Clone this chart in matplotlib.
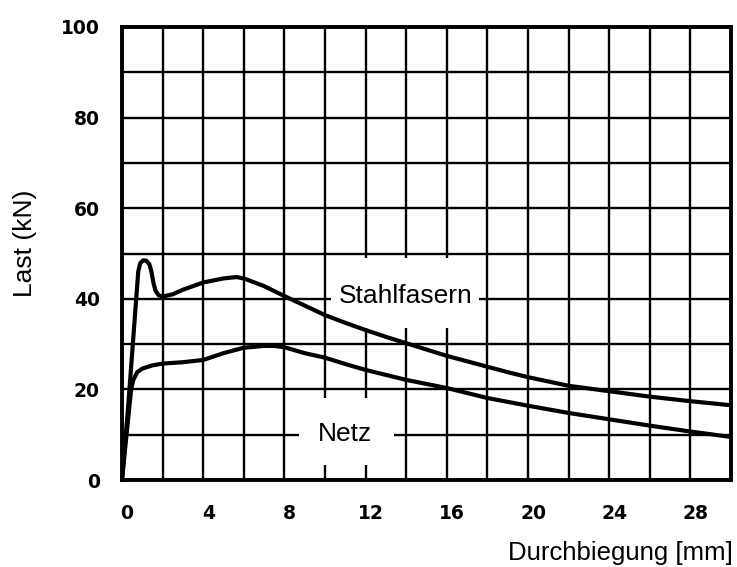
import matplotlib.pyplot as plt
from matplotlib.patches import Rectangle
from matplotlib.transforms import ScaledTranslation
# load-deflection curves

stahl_x=[0,0.3,0.5,0.7,0.8,0.9,1.05,1.2,1.35,1.45,1.55,1.65,1.8,2.0,2.5,3,4,5,5.65,6,7,8,9,10,11,12,13,14,15,16,17,18,19,20,22,24,26,28,30]
stahl_y=[0,16,28,40,46,47.9,48.5,48.4,47.6,46,43.5,41.8,40.8,40.5,41,42,43.6,44.5,44.8,44.5,42.8,40.6,38.5,36.4,34.7,33.1,31.6,30.2,28.8,27.4,26.2,25.0,23.8,22.7,20.8,19.6,18.4,17.4,16.5]

netz_x=[0,0.2,0.45,0.55,0.75,1.0,1.5,2,3,4,5,6,7,7.5,8,9,10,11,12,13,14,15,16,17,18,20,22,24,26,28,30]
netz_y=[0,9,20,22,23.8,24.6,25.3,25.7,26,26.5,28,29.2,29.6,29.6,29.3,28,27,25.6,24.3,23.2,22.1,21.2,20.3,19.2,18.1,16.4,14.8,13.4,12.0,10.7,9.5]

x_ticks=[0,4,8,12,16,20,24,28]
y_ticks=[0,20,40,60,80,100]

fig=plt.figure(figsize=(7.37,5.67),dpi=100)
ax=fig.add_axes([122/737,1-480/567,609/737,453/567])
ax.set_xlim(0,30)
ax.set_ylim(0,100)

# grid every 2 mm / 10 kN, labels only every 4 mm / 20 kN
ax.set_xticks(x_ticks)
ax.set_yticks(y_ticks)
ax.set_xticks(range(0,31,2),minor=True)
ax.set_yticks(range(0,101,10),minor=True)
ax.set_axisbelow(True)
ax.grid(which='both',color='black',linewidth=1.7)
ax.tick_params(which='both',length=0)
ax.tick_params(axis='x',pad=17)
ax.tick_params(axis='y',pad=16)
for lab in ax.get_xticklabels()+ax.get_yticklabels():
    lab.set_fontfamily('DejaVu Sans')
    lab.set_fontweight('bold')
    lab.set_fontsize(13.5)
for lab in ax.get_xticklabels():
    lab.set_transform(lab.get_transform()+ScaledTranslation(5/100,0,fig.dpi_scale_trans))
for s in ax.spines.values():
    s.set_linewidth(2.8)
    s.set_zorder(4)

# white areas behind the curve labels (grid is cut there)
ax.add_patch(Rectangle((10.3,33.5),7.3,15.5,facecolor='white',edgecolor='none',zorder=1.5))
ax.add_patch(Rectangle((8.7,3.3),4.7,14.7,facecolor='white',edgecolor='none',zorder=1.5))

ax.plot(stahl_x,stahl_y,color='black',linewidth=3.0,zorder=2.5,solid_joinstyle='round')
ax.plot(netz_x,netz_y,color='black',linewidth=3.0,zorder=2.5,solid_joinstyle='round')

ax.text(14.0,39.1,'Stahlfasern',ha='center',va='baseline',fontsize=19,family='Liberation Sans',zorder=3)
ax.text(11.0,8.6,'Netz',ha='center',va='baseline',fontsize=19,family='Liberation Sans',zorder=3)

fig.text(733/737,1-553/567,'Durchbiegung [mm]',ha='right',va='center',fontsize=18.5,family='Liberation Sans')
fig.text(25/737,1-243/567,'Last (kN)',ha='center',va='center',rotation=90,fontsize=19,family='Liberation Sans')

fig.savefig('out.png',dpi=100)
